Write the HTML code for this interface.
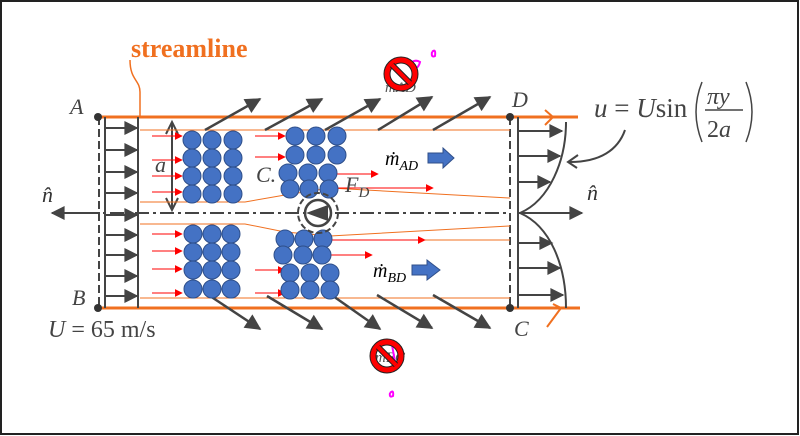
<!DOCTYPE html>
<html><head><meta charset="utf-8"><style>
html,body{margin:0;padding:0;background:#fff;}
svg{display:block;}
text{font-family:"Liberation Serif",serif;}
</style></head><body>
<svg width="800" height="436" viewBox="0 0 800 436" xmlns="http://www.w3.org/2000/svg">
<defs>
<marker id="bh" viewBox="0 0 10 10" refX="9" refY="5" markerWidth="16" markerHeight="14" orient="auto" markerUnits="userSpaceOnUse"><path d="M0,0 L10,5 L0,10 z" fill="#444"/></marker>
<marker id="dh" viewBox="0 0 10 10" refX="9" refY="5" markerWidth="20" markerHeight="16" orient="auto" markerUnits="userSpaceOnUse"><path d="M0,0 L10,5 L0,10 z" fill="#444"/></marker>
<marker id="rh" viewBox="0 0 10 10" refX="9" refY="5" markerWidth="8" markerHeight="8" orient="auto" markerUnits="userSpaceOnUse"><path d="M0,0 L10,5 L0,10 z" fill="#f00"/></marker>
</defs>
<rect x="1" y="1" width="797" height="433" fill="#fff" stroke="#222" stroke-width="2"/>

<g stroke="#444" stroke-width="2" stroke-dasharray="8,4" fill="none">
<line x1="99" y1="117" x2="99" y2="308"/>
<line x1="510" y1="117" x2="510" y2="308"/>
<line x1="99" y1="117" x2="510" y2="117"/>
<line x1="99" y1="308" x2="510" y2="308"/>
</g>
<line x1="60" y1="213" x2="510" y2="213" stroke="#444" stroke-width="2" stroke-dasharray="14,4,3,4"/>
<line x1="100" y1="213" x2="52" y2="213" stroke="#444" stroke-width="2" marker-end="url(#bh)"/>
<text x="42" y="202" font-size="22" font-style="italic" fill="#333">n̂</text>

<line x1="100" y1="117" x2="578" y2="117" stroke="#f07020" stroke-width="3"/>
<line x1="100" y1="308" x2="580" y2="308" stroke="#f07020" stroke-width="3"/>
<path d="M545,110 L553,117 L545,125" stroke="#f07020" stroke-width="2" fill="none"/>
<path d="M553,304 L561,308 L547,327" stroke="#f07020" stroke-width="2" fill="none"/>
<path d="M130,60 C130,80 140,80 140,92 L140,117" stroke="#f07020" stroke-width="1.5" fill="none"/>
<text x="131" y="57" font-size="26" font-weight="bold" fill="#f07020">streamline</text>

<g fill="#333"><circle cx="98" cy="117" r="4"/><circle cx="98" cy="308" r="4"/><circle cx="510" cy="117" r="4"/><circle cx="510" cy="308" r="4"/></g>
<g font-size="22" font-style="italic" fill="#444">
<text x="70" y="114">A</text><text x="72" y="305">B</text><text x="512" y="107">D</text><text x="514" y="336">C</text>
<text x="155" y="172">a</text><text x="256" y="182">C.</text>
</g>
<text x="48" y="337" font-size="24" fill="#444"><tspan font-style="italic">U</tspan> = 65 m/s</text>

<line x1="105" y1="117" x2="105" y2="308" stroke="#444" stroke-width="2"/>
<line x1="138" y1="117" x2="138" y2="308" stroke="#444" stroke-width="2"/>
<g stroke="#444" stroke-width="2" marker-end="url(#bh)">
<line x1="105" y1="128" x2="137" y2="128"/><line x1="105" y1="150" x2="137" y2="150"/>
<line x1="105" y1="172" x2="137" y2="172"/><line x1="105" y1="193" x2="137" y2="193"/>
<line x1="105" y1="215" x2="137" y2="215"/><line x1="105" y1="235" x2="137" y2="235"/>
<line x1="105" y1="255" x2="137" y2="255"/><line x1="105" y1="276" x2="137" y2="276"/>
<line x1="105" y1="296" x2="137" y2="296"/>
</g>
<line x1="172" y1="124" x2="172" y2="208" stroke="#444" stroke-width="2"/>
<path d="M166,134 L172,122 L178,134 M166,198 L172,210 L178,198" stroke="#444" stroke-width="2" fill="none"/>

<g stroke="#f07020" stroke-width="1" fill="none">
<path d="M140,130 L510,130"/>
<path d="M140,202 L245,202 L285,195 L330,188 L510,198"/>
<path d="M140,224 L245,224 L285,232 L330,236 L510,226"/>
<path d="M140,298 L510,298"/>
<path d="M330,240 L510,240"/>
</g>

<g stroke="#444" stroke-width="2.5" marker-end="url(#dh)">
<line x1="205" y1="130" x2="260" y2="99"/><line x1="265" y1="130" x2="322" y2="99"/>
<line x1="325" y1="130" x2="380" y2="99"/><line x1="378" y1="130" x2="432" y2="97"/>
<line x1="433" y1="130" x2="490" y2="97"/>
<line x1="210" y1="296" x2="260" y2="329"/><line x1="267" y1="296" x2="322" y2="329"/>
<line x1="333" y1="296" x2="380" y2="329"/><line x1="377" y1="295" x2="432" y2="328"/>
<line x1="433" y1="295" x2="490" y2="328"/>
</g>

<g stroke="#f00" stroke-width="1" marker-end="url(#rh)">
<line x1="152" y1="136" x2="182" y2="136"/><line x1="152" y1="160" x2="182" y2="160"/>
<line x1="152" y1="176" x2="182" y2="176"/><line x1="152" y1="192" x2="182" y2="192"/>
<line x1="152" y1="234" x2="182" y2="234"/><line x1="152" y1="251" x2="182" y2="251"/>
<line x1="152" y1="269" x2="182" y2="269"/><line x1="152" y1="293" x2="182" y2="293"/>
<line x1="255" y1="136" x2="285" y2="136"/><line x1="255" y1="157" x2="285" y2="157"/>
<line x1="255" y1="270" x2="285" y2="270"/><line x1="255" y1="293" x2="285" y2="293"/>
<line x1="330" y1="174" x2="378" y2="174"/><line x1="330" y1="188" x2="433" y2="188"/>
<line x1="330" y1="240" x2="425" y2="240"/><line x1="325" y1="255" x2="372" y2="255"/>
</g>

<g fill="#4472c4" stroke="#2f4f8a" stroke-width="1">
<circle cx="192" cy="140" r="9"/><circle cx="212" cy="140" r="9"/><circle cx="233" cy="140" r="9"/>
<circle cx="192" cy="158" r="9"/><circle cx="212" cy="158" r="9"/><circle cx="233" cy="158" r="9"/>
<circle cx="192" cy="176" r="9"/><circle cx="212" cy="176" r="9"/><circle cx="233" cy="176" r="9"/>
<circle cx="192" cy="194" r="9"/><circle cx="212" cy="194" r="9"/><circle cx="233" cy="194" r="9"/>
<circle cx="193" cy="234" r="9"/><circle cx="212" cy="234" r="9"/><circle cx="231" cy="234" r="9"/>
<circle cx="193" cy="252" r="9"/><circle cx="212" cy="252" r="9"/><circle cx="231" cy="252" r="9"/>
<circle cx="193" cy="270" r="9"/><circle cx="212" cy="270" r="9"/><circle cx="231" cy="270" r="9"/>
<circle cx="193" cy="289" r="9"/><circle cx="212" cy="289" r="9"/><circle cx="231" cy="289" r="9"/>
<circle cx="295" cy="136" r="9"/><circle cx="316" cy="136" r="9"/><circle cx="337" cy="136" r="9"/>
<circle cx="295" cy="155" r="9"/><circle cx="316" cy="155" r="9"/><circle cx="337" cy="155" r="9"/>
<circle cx="288" cy="173" r="9"/><circle cx="308" cy="173" r="9"/><circle cx="328" cy="173" r="9"/>
<circle cx="290" cy="189" r="9"/><circle cx="309" cy="189" r="9"/><circle cx="329" cy="189" r="9"/>
<circle cx="285" cy="239" r="9"/><circle cx="304" cy="239" r="9"/><circle cx="323" cy="239" r="9"/>
<circle cx="283" cy="255" r="9"/><circle cx="303" cy="255" r="9"/><circle cx="322" cy="255" r="9"/>
<circle cx="290" cy="273" r="9"/><circle cx="310" cy="273" r="9"/><circle cx="330" cy="273" r="9"/>
<circle cx="290" cy="290" r="9"/><circle cx="310" cy="290" r="9"/><circle cx="330" cy="290" r="9"/>
</g>

<circle cx="318" cy="213" r="20" fill="none" stroke="#444" stroke-width="2" stroke-dasharray="6,3"/>
<circle cx="318" cy="213" r="13" fill="#fff" stroke="#444" stroke-width="2.5"/>
<path d="M306,213 L328,205 L328,221 z" fill="#444"/>

<text x="345" y="192" font-size="22" font-style="italic" fill="#444">F<tspan font-size="15" dy="5">D</tspan></text>
<text x="385" y="165" font-size="20" font-style="italic" fill="#000">ṁ<tspan font-size="14" dy="5">AD</tspan></text>
<path d="M428,153 L443,153 L443,148 L454,158 L443,168 L443,163 L428,163 z" fill="#4472c4" stroke="#2f4f8a"/>
<text x="373" y="277" font-size="20" font-style="italic" fill="#000">ṁ<tspan font-size="14" dy="5">BD</tspan></text>
<path d="M412,265 L427,265 L427,260 L440,270 L427,280 L427,275 L412,275 z" fill="#4472c4" stroke="#2f4f8a"/>

<line x1="518" y1="117" x2="518" y2="308" stroke="#444" stroke-width="2"/>
<path d="M566,122 C566,160 550,200 520,213 C550,226 566,265 566,308" stroke="#444" stroke-width="2" fill="none"/>
<g stroke="#444" stroke-width="2" marker-end="url(#bh)">
<line x1="518" y1="131" x2="562" y2="131"/><line x1="518" y1="156" x2="560" y2="156"/>
<line x1="518" y1="182" x2="550" y2="182"/><line x1="518" y1="213" x2="582" y2="213"/>
<line x1="518" y1="243" x2="552" y2="243"/><line x1="518" y1="268" x2="560" y2="268"/>
<line x1="518" y1="295" x2="563" y2="295"/>
</g>
<text x="587" y="200" font-size="22" font-style="italic" fill="#333">n̂</text>
<path d="M625,130 C618,150 600,162 570,162" stroke="#444" stroke-width="2" fill="none"/>
<path d="M578,155 L568,162 L577,168" stroke="#444" stroke-width="2" fill="none"/>
<text x="594" y="117" font-size="27" fill="#444"><tspan font-style="italic">u</tspan> = <tspan font-style="italic">U</tspan>sin</text>
<path d="M702,82 Q690,112 702,142" stroke="#444" stroke-width="1.5" fill="none"/>
<path d="M746,82 Q758,112 746,142" stroke="#444" stroke-width="1.5" fill="none"/>
<text x="707" y="104" font-size="24" font-style="italic" fill="#444">πy</text>
<line x1="705" y1="110" x2="743" y2="110" stroke="#444" stroke-width="1.5"/>
<text x="707" y="137" font-size="24" fill="#444">2<tspan font-style="italic">a</tspan></text>

<text x="385" y="92" font-size="15" font-style="italic" fill="#555">ṁAD</text>
<path d="M408,66 q6,-8 12,-4 q-2,8 -8,6 M432,52 q4,-4 3,4 q-4,2 -3,-4" stroke="#f0f" stroke-width="2" fill="none"/>
<circle cx="401" cy="74" r="14" fill="none" stroke="#222" stroke-width="7"/>
<circle cx="401" cy="74" r="14" fill="none" stroke="#f00" stroke-width="5"/>
<line x1="392" y1="65" x2="410" y2="83" stroke="#222" stroke-width="6"/>
<line x1="392" y1="65" x2="410" y2="83" stroke="#f00" stroke-width="4"/>
<text x="375" y="362" font-size="15" font-style="italic" fill="#555">ṁBC</text>
<path d="M392,345 l4,22 M390,393 q4,-4 3,3 q-4,2 -3,-3" stroke="#f0f" stroke-width="2" fill="none"/>
<circle cx="387" cy="356" r="14" fill="none" stroke="#222" stroke-width="7"/>
<circle cx="387" cy="356" r="14" fill="none" stroke="#f00" stroke-width="5"/>
<line x1="378" y1="347" x2="396" y2="365" stroke="#222" stroke-width="6"/>
<line x1="378" y1="347" x2="396" y2="365" stroke="#f00" stroke-width="4"/>
</svg>
</body></html>
